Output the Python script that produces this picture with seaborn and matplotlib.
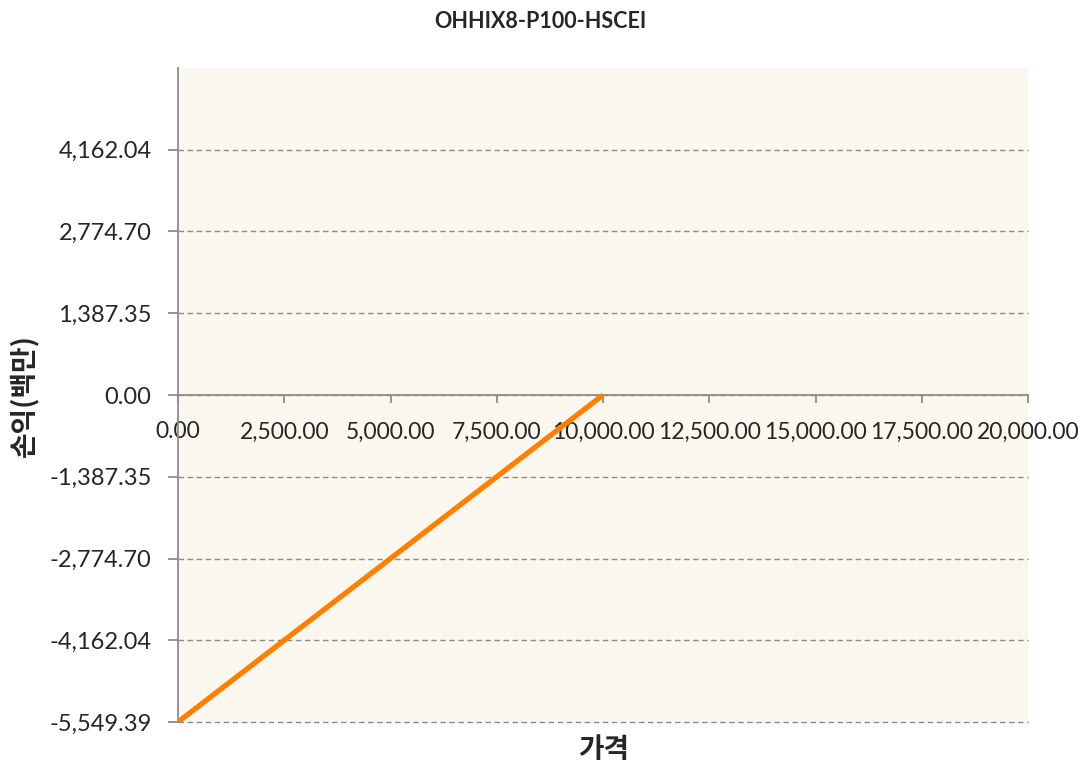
import pandas as pd
import matplotlib.pyplot as plt
import seaborn as sns

# payoff line (price -> P&L, millions)
price = [0.0, 10000.0]
pnl = [-5549.39, 0.0]

y_ticks = [-5549.39, -4162.04, -2774.70, -1387.35, 0.00, 1387.35, 2774.70, 4162.04]
y_labels = ["-5,549.39", "-4,162.04", "-2,774.70", "-1,387.35", "0.00", "1,387.35", "2,774.70", "4,162.04"]
x_ticks = [0, 2500, 5000, 7500, 10000, 12500, 15000, 17500, 20000]
x_labels = ["0.00", "2,500.00", "5,000.00", "7,500.00", "10,000.00", "12,500.00", "15,000.00", "17,500.00", "20,000.00"]

df = pd.DataFrame({"price": price, "pnl": pnl})

sns.set_style("white")
plt.rcParams['font.family'] = ['Lato', 'Noto Sans CJK KR', 'DejaVu Sans']

fig = plt.figure(figsize=(10.88, 7.69), dpi=100)
ax = fig.add_axes([178/1088, 1 - 722/769, 850/1088, 654/769])
ax.set_facecolor("#FAF7EE")

for y in y_ticks:
    ax.axhline(y, color="#8C8C8C", linestyle=(0, (4, 2.5)), linewidth=1.0, zorder=1, clip_on=False)

sns.lineplot(data=df, x="price", y="pnl", color="#FF8000", linewidth=3.8, ax=ax, zorder=3,
             solid_capstyle="butt")

ax.set_xlim(0, 20000)
ax.set_ylim(-5549.39, 5549.39)
ax.set_xticks(x_ticks)
ax.set_xticklabels(x_labels)
ax.set_yticks(y_ticks)
ax.set_yticklabels(y_labels)

for s in ["top", "right"]:
    ax.spines[s].set_visible(False)
ax.spines["bottom"].set_position(("data", 0))
ax.spines["bottom"].set_color("#8C8C8C")
ax.spines["left"].set_color("#8C8C8C")
ax.spines["bottom"].set_linewidth(1.3)
ax.spines["left"].set_linewidth(1.3)
ax.spines["bottom"].set_zorder(2)

ax.tick_params(axis="x", direction="out", length=6, color="#8C8C8C", width=1.3, labelsize=16.5, pad=13)
ax.tick_params(axis="y", direction="out", length=7, color="#8C8C8C", width=1.3, labelsize=17, pad=12)
ax.tick_params(bottom=True, left=True)

ax.set_xlabel("")
ax.set_ylabel("")
fig.text(604/1088, 1 - 750/769, "가격", ha="center", va="center", fontsize=20, fontweight="bold",
         family=['Noto Sans CJK KR', 'DejaVu Sans'])
fig.text(24/1088, 1 - 395/769, "손익(백만)", ha="center", va="center", rotation=90, fontsize=20,
         fontweight="bold", family=['Noto Sans CJK KR', 'DejaVu Sans'])
fig.text(540/1088, 1 - 22/769, "OHHIX8-P100-HSCEI", ha="center", va="center", fontsize=15.5,
         fontweight="bold")

fig.savefig("out.png", dpi=100)
